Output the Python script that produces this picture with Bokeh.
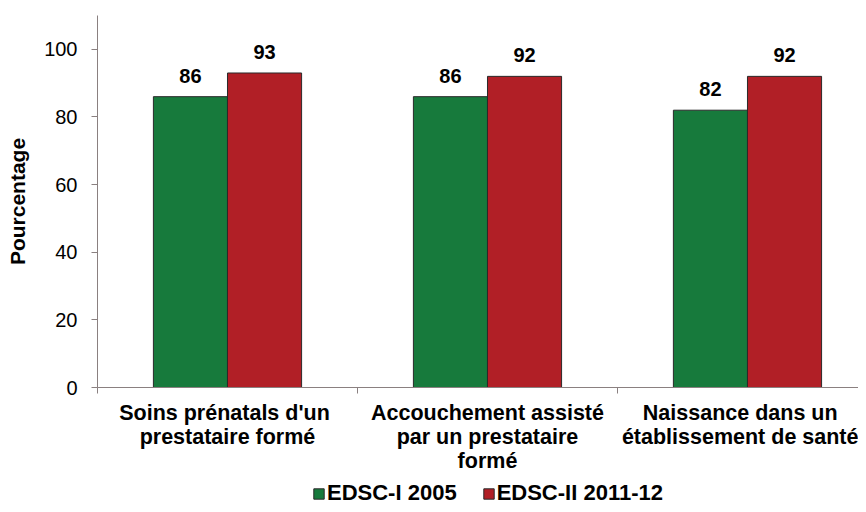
import numpy as np
from bokeh.plotting import figure
from bokeh.layouts import column
from bokeh.models import Range1d, FixedTicker, ColumnDataSource, Legend, LegendItem
from bokeh.transform import dodge
from bokeh.embed import file_html
from bokeh.resources import INLINE
from bokeh.core.properties import value

categories = ["Soins prénatals  d'un\nprestataire formé",
              "Accouchement assisté\npar un prestataire\nformé",
              "Naissance dans un\nétablissement de santé"]
series_names = ["EDSC-I 2005", "EDSC-II 2011-12"]
edsc1 = [86, 86, 82]
edsc2 = [93, 92, 92]
y_ticks = [0, 20, 40, 60, 80, 100]

FONT = "Liberation Sans"
GREEN = "#177a3c"
RED = "#b11f26"
EDGE = "#2a2a2a"
AXIS = "#8a8080"

centers = np.arange(len(categories)) + 0.5
src = ColumnDataSource(dict(
    x=centers, v1=edsc1, v2=edsc2,
    t1=[str(v) for v in edsc1], t2=[str(v) for v in edsc2]))

W, H1, H2 = 858, 480, 26
p = figure(width=W, height=H1, output_backend="svg", toolbar_location=None,
           x_range=Range1d(0, 2.927), y_range=Range1d(0, 110),
           min_border_left=97, min_border_top=15, min_border_bottom=H1 - 387,
           min_border_right=0)
p.outline_line_color = None
p.xgrid.visible = False
p.ygrid.visible = False
p.background_fill_color = "white"
p.border_fill_color = "white"

bw = 0.285
r1 = p.vbar(x=dodge("x", -bw / 2), top="v1", width=bw, source=src,
            fill_color=GREEN, line_color=EDGE, line_width=1)
r2 = p.vbar(x=dodge("x", bw / 2), top="v2", width=bw, source=src,
            fill_color=RED, line_color=EDGE, line_width=1)

for col, tcol, off in (("v1", "t1", -bw / 2), ("v2", "t2", bw / 2)):
    p.text(x=dodge("x", off), y=col, text=tcol, source=src,
           text_align="center", text_baseline="alphabetic", y_offset=-21,
           text_font=value(FONT), text_font_style="bold",
           text_font_size="20px", text_color="black")

# x axis
xa = p.xaxis[0]
xa.ticker = FixedTicker(ticks=list(centers), minor_ticks=list(range(len(categories) + 1)))
xa.major_label_overrides = {float(c): lab for c, lab in zip(centers, categories)}
xa.major_tick_line_color = None
xa.major_tick_out = 0
xa.major_tick_in = 0
xa.minor_tick_line_color = AXIS
xa.minor_tick_out = 6
xa.minor_tick_in = 0
xa.axis_line_color = AXIS
xa.major_label_text_font = FONT
xa.major_label_text_font_style = "bold"
xa.major_label_text_font_size = "21.5px"
xa.major_label_text_color = "black"
xa.major_label_text_line_height = 1.0
xa.major_label_standoff = 7

# y axis
ya = p.yaxis[0]
ya.ticker = FixedTicker(ticks=y_ticks)
ya.minor_tick_line_color = None
ya.major_tick_out = 6
ya.major_tick_in = 0
ya.major_tick_line_color = AXIS
ya.axis_line_color = AXIS
ya.major_label_text_font = FONT
ya.major_label_text_font_size = "20px"
ya.major_label_text_color = "black"
ya.major_label_standoff = 14
ya.axis_label = "Pourcentage"
ya.axis_label_text_font = FONT
ya.axis_label_text_font_style = "bold"
ya.axis_label_text_font_size = "21px"
ya.axis_label_text_color = "black"
ya.axis_label_standoff = 12

# legend strip (frame is aligned with the main plot's frame by the column layout)
p2 = figure(width=W, height=H2, output_backend="svg", toolbar_location=None,
            x_axis_type=None, y_axis_type=None,
            x_range=Range1d(0, 1), y_range=Range1d(0, 1),
            min_border=0)
p2.outline_line_color = None
p2.xgrid.visible = False
p2.ygrid.visible = False
# key swatches: one off-screen bar each, only used for the legend glyphs
l1 = p2.vbar(x=[5], top=[0.5], width=0.1, fill_color=GREEN, line_color=EDGE)
l2 = p2.vbar(x=[5], top=[0.5], width=0.1, fill_color=RED, line_color=EDGE)
legend = Legend(items=[LegendItem(label=series_names[0], renderers=[l1], index=0),
                       LegendItem(label=series_names[1], renderers=[l2], index=0)],
                orientation="horizontal", location=(215, 0),
                glyph_width=13, glyph_height=13, label_standoff=2, spacing=25,
                padding=0, margin=0, border_line_color=None,
                background_fill_alpha=0,
                label_text_font=FONT, label_text_font_style="bold",
                label_text_font_size="22px", label_text_color="black")
p2.add_layout(legend, "center")

layout = column(p, p2, spacing=0)
open("out.html", "w").write(file_html(layout, INLINE))
